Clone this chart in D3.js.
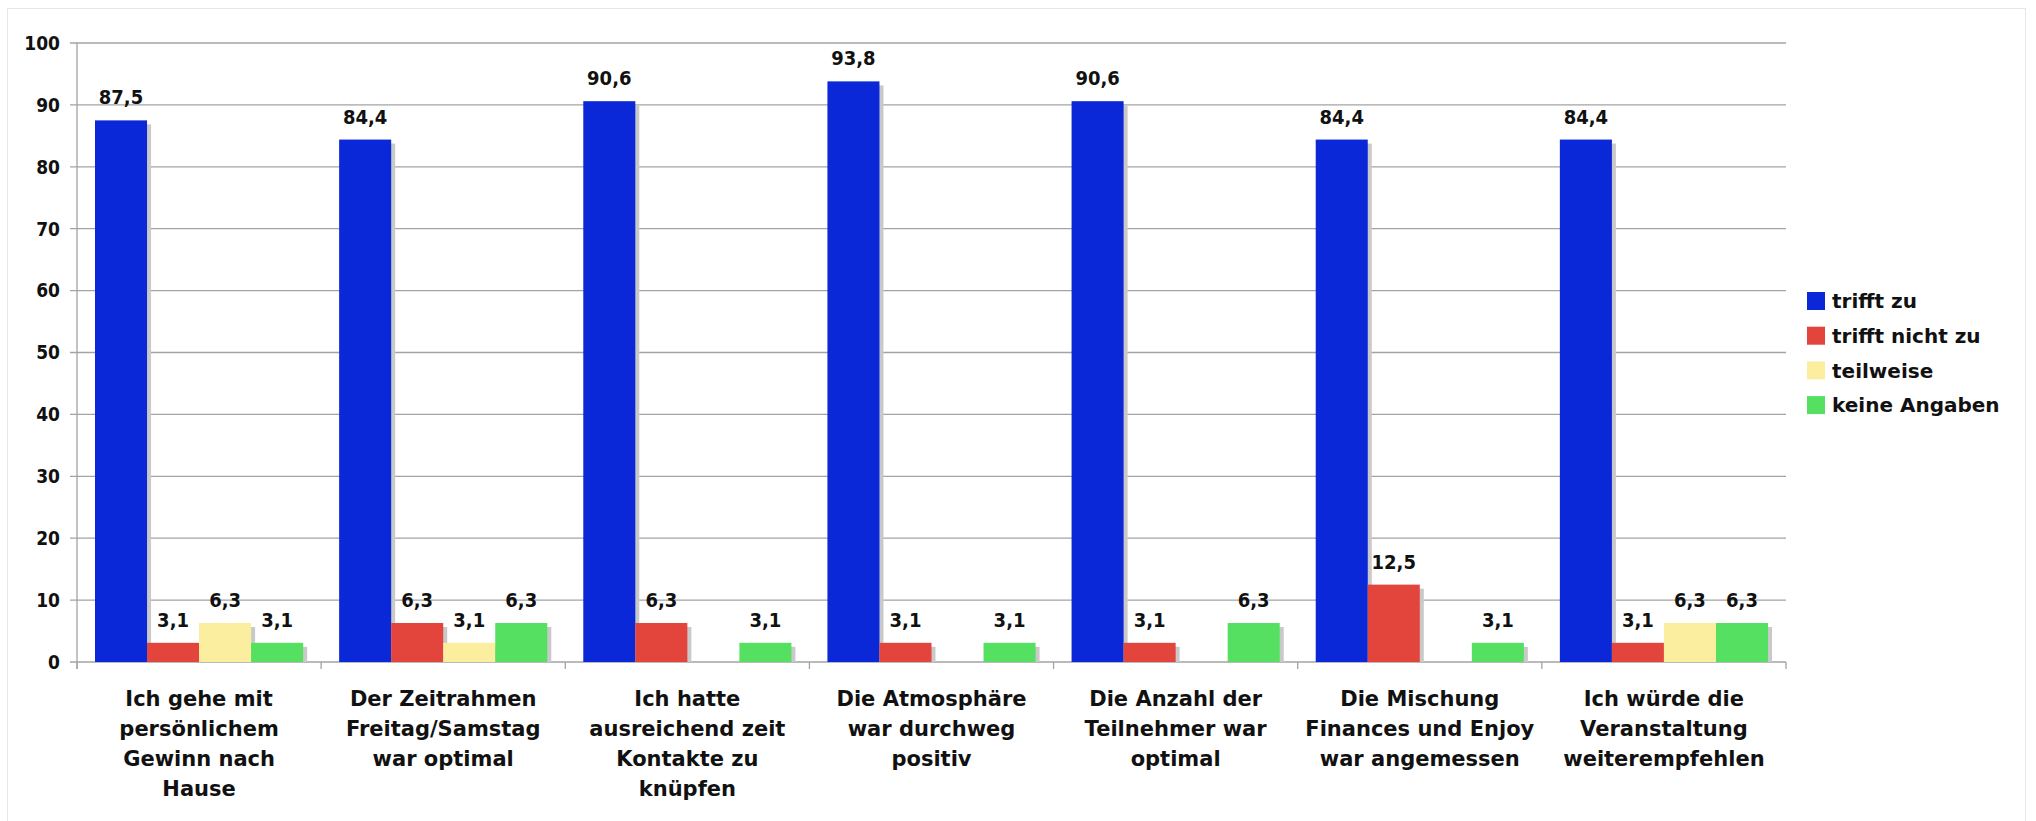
<!DOCTYPE html>
<html>
<head>
<meta charset="UTF-8">
<title>Umfrage</title>
<script src="https://d3js.org/d3.v7.min.js"></script>
<style>
  body { margin: 0; background: #fff; }
  text { font-family: "DejaVu Sans", sans-serif; font-weight: bold; fill: #111; }
  .num { font-family: "DejaVu Sans Condensed", "DejaVu Sans", sans-serif; font-stretch: condensed; }
</style>
</head>
<body>
<svg id="chart" width="2036" height="821"></svg>
<script>
// data
const categories = [
  ["Ich gehe mit", "persönlichem", "Gewinn nach", "Hause"],
  ["Der Zeitrahmen", "Freitag/Samstag", "war optimal"],
  ["Ich hatte", "ausreichend zeit", "Kontakte zu", "knüpfen"],
  ["Die Atmosphäre", "war durchweg", "positiv"],
  ["Die Anzahl der", "Teilnehmer war", "optimal"],
  ["Die Mischung", "Finances und Enjoy", "war angemessen"],
  ["Ich würde die", "Veranstaltung", "weiterempfehlen"]
];
const series = ["trifft zu", "trifft nicht zu", "teilweise", "keine Angaben"];
const colors = ["#0a28d8", "#e3443c", "#fcee9f", "#55e062"];
const triffZu      = [87.5, 84.4, 90.6, 93.8, 90.6, 84.4, 84.4];
const triffNichtZu = [3.1, 6.3, 6.3, 3.1, 3.1, 12.5, 3.1];
const teilweise    = [6.3, 3.1, 0, 0, 0, 0, 6.3];
const keineAngaben = [3.1, 6.3, 3.1, 3.1, 6.3, 3.1, 6.3];
const yTicks = [0, 10, 20, 30, 40, 50, 60, 70, 80, 90, 100];

const values = [triffZu, triffNichtZu, teilweise, keineAngaben];
const catKeys = categories.map(c => c.join(" "));

const svg = d3.select("#chart");
const plotL = 77, plotR = 1786, plotT = 43, plotB = 662;

// outer frame
svg.append("rect")
  .attr("x", 7.5).attr("y", 8.5).attr("width", 2018).attr("height", 830)
  .attr("fill", "none").attr("stroke", "#e6e6e6");

const x0 = d3.scaleBand().domain(catKeys).range([plotL, plotR]);
const x1 = d3.scaleBand().domain(series).range([18, x0.bandwidth() - 18]);
const y = d3.scaleLinear().domain([0, 100]).range([plotB, plotT]);

// gridlines + y ticks
const grid = svg.append("g");
grid.selectAll("line.grid").data(yTicks).join("line")
  .attr("class", "grid")
  .attr("x1", plotL - 7).attr("x2", plotR)
  .attr("y1", d => y(d)).attr("y2", d => y(d))
  .attr("stroke", "#a3a3a3").attr("stroke-width", 1.3);

grid.selectAll("text").data(yTicks).join("text")
  .attr("class", "num")
  .attr("x", 60).attr("y", d => y(d)).attr("dy", "0.36em")
  .attr("text-anchor", "end").attr("font-size", 19)
  .text(d => d);

// y axis line
svg.append("line")
  .attr("x1", plotL).attr("x2", plotL).attr("y1", y(100)).attr("y2", plotB + 7)
  .attr("stroke", "#a3a3a3").attr("stroke-width", 1.3);

// category boundary ticks
const bounds = catKeys.map(k => x0(k)).concat([plotR]);
svg.selectAll("line.ctick").data(bounds).join("line")
  .attr("class", "ctick")
  .attr("x1", d => d).attr("x2", d => d)
  .attr("y1", plotB).attr("y2", plotB + 7)
  .attr("stroke", "#a3a3a3").attr("stroke-width", 1.3);

// bars with drop shadow, drawn bar by bar so the next bar covers the shadow
const bars = svg.append("g");
catKeys.forEach((k, ci) => {
  series.forEach((s, si) => {
    const v = values[si][ci];
    if (!v) return;
    const bx = x0(k) + x1(s), bw = x1.bandwidth(), by = y(v);
    bars.append("rect")
      .attr("x", bx + 4).attr("y", by + 4)
      .attr("width", bw).attr("height", plotB - by - 4)
      .attr("fill", "#c9c9c9");
    bars.append("rect")
      .attr("x", bx).attr("y", by)
      .attr("width", bw).attr("height", plotB - by)
      .attr("fill", colors[si]);
    bars.append("text")
      .attr("class", "num")
      .attr("x", bx + bw / 2).attr("y", by - 16)
      .attr("text-anchor", "middle").attr("font-size", 20)
      .text(String(v).replace(".", ","));
  });
});

// category labels
const labels = svg.append("g");
categories.forEach((lines, ci) => {
  const cx = x0(catKeys[ci]) + x0.bandwidth() / 2;
  const t = labels.append("text")
    .attr("x", cx).attr("y", 706)
    .attr("text-anchor", "middle").attr("font-size", 21);
  lines.forEach((ln, li) => {
    t.append("tspan")
      .attr("x", cx)
      .attr("dy", li === 0 ? 0 : 30)
      .text(ln);
  });
});

// legend
const legend = svg.append("g").attr("transform", "translate(1807,301)");
series.forEach((s, i) => {
  const g = legend.append("g").attr("transform", `translate(0,${i * 34.7})`);
  g.append("rect").attr("x", 0).attr("y", -9).attr("width", 18).attr("height", 18)
    .attr("fill", colors[i]);
  g.append("text").attr("x", 25).attr("y", 0).attr("dy", "0.36em")
    .attr("font-size", 20).text(s);
});
</script>
</body>
</html>
